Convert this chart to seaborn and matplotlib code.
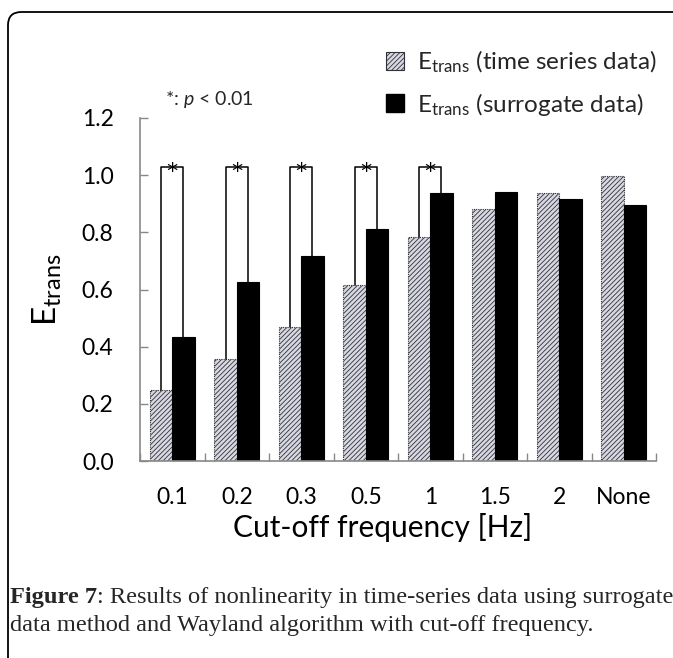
import numpy as np
import pandas as pd
import matplotlib
matplotlib.use("Agg")
import matplotlib.pyplot as plt
import seaborn as sns
from matplotlib.patches import FancyBboxPatch, Patch

# ---- data ----
categories = ["0.1", "0.2", "0.3", "0.5", "1", "1.5", "2", "None"]
time_series = [0.247, 0.358, 0.469, 0.617, 0.784, 0.883, 0.939, 0.998]
surrogate = [0.434, 0.627, 0.718, 0.810, 0.936, 0.942, 0.915, 0.895]
significant = [True, True, True, True, True, False, False, False]
series_names = ["time series data", "surrogate data"]
yticks = [0.0, 0.2, 0.4, 0.6, 0.8, 1.0, 1.2]
bracket_level = 1.027

df = pd.DataFrame({
    "freq": categories * 2,
    "value": time_series + surrogate,
    "series": [series_names[0]] * len(categories) + [series_names[1]] * len(categories),
})

sns.set_theme(style="white")
SANS = "Lato"
plt.rcParams["font.family"] = [SANS, "DejaVu Sans"]
plt.rcParams["mathtext.fontset"] = "custom"
plt.rcParams["mathtext.rm"] = SANS
plt.rcParams["mathtext.it"] = SANS + ":italic"
plt.rcParams["hatch.linewidth"] = 0.6

fig = plt.figure(figsize=(6.73, 6.58), dpi=100)
ax = fig.add_axes([140 / 673, 1 - 461 / 658, 516 / 673, (461 - 118) / 658])

gray_fc = "#d8d8e2"
hatch_c = "#7c7c96"
HATCH = "///////"
sns.barplot(data=df, x="freq", y="value", hue="series", order=categories,
            hue_order=series_names, palette=[gray_fc, "black"],
            width=0.69, gap=0, dodge=True, legend=False, ax=ax,
            saturation=1, edgecolor="black", linewidth=0.8)

n = len(categories)
for i, p in enumerate(ax.patches[:n]):
    p.set_hatch(HATCH)
    p.set_edgecolor("#303038")
    p.set_linestyle((0, (1, 1)))
    try:
        p.set_hatchcolor(hatch_c)
    except Exception:
        pass

# brackets
gray_bars = ax.patches[:n]
black_bars = ax.patches[n:2 * n]
for i in range(n):
    if not significant[i]:
        continue
    gb, bb = gray_bars[i], black_bars[i]
    x0 = gb.get_x() + gb.get_width() / 2
    x1 = bb.get_x() + bb.get_width() / 2
    ax.plot([x0, x0, x1, x1], [time_series[i], bracket_level, bracket_level, surrogate[i]],
            color="black", lw=1.1, zorder=3)
    ax.text((x0 + x1) / 2, bracket_level - 0.016, "*", ha="center", va="center",
            fontsize=16, color="black", zorder=4, family=["DejaVu Sans"])

ax.set_ylim(0, 1.2)
ax.set_xlim(-0.5, n - 0.5)
ax.set_yticks(yticks)
ax.set_yticklabels([f"{v:.1f}" for v in yticks], fontsize=16.5)
ax.tick_params(axis="y", direction="in", length=6, width=1, color="#888888", pad=19,
               left=True, labelcolor="black")
ax.tick_params(axis="x", length=0, pad=19, labelsize=16.5, labelcolor="black")
ax.set_xticks(range(n))
ax.set_xticklabels(categories)
ax.set_xticks(np.arange(-0.5, n, 1.0), minor=True)
ax.tick_params(axis="x", which="minor", direction="in", length=6, width=1,
               color="#888888", bottom=True)
for s in ["top", "right"]:
    ax.spines[s].set_visible(False)
for s in ["left", "bottom"]:
    ax.spines[s].set_color("#888888")
    ax.spines[s].set_linewidth(1.2)
ax.set_xlabel("Cut-off frequency [Hz]", fontsize=21.5, color="black")
ax.xaxis.set_label_coords((383 - 140) / 516, -(527 - 461) / 343, transform=ax.transAxes)
ax.xaxis.label.set_va("center")
ax.set_ylabel(r"E$_\mathregular{trans}$", fontsize=24, labelpad=13, color="black")

# legend
h1 = Patch(facecolor=gray_fc, edgecolor="#303038", hatch=HATCH, linewidth=0.8)
try:
    h1.set_hatchcolor(hatch_c)
except Exception:
    pass
h2 = Patch(facecolor="black", edgecolor="black")
leg = fig.legend([h1, h2],
                 [r"E$_\mathregular{trans}$ (time series data)",
                  r"E$_\mathregular{trans}$ (surrogate data)"],
                 loc="upper left", bbox_to_anchor=(376 / 673, 1 - 39 / 658),
                 frameon=False, fontsize=17.5, handlelength=0.75, handleheight=0.75,
                 handletextpad=0.55, labelspacing=0.65, borderaxespad=0)

fig.text(165 / 673, 1 - 99 / 658, r"*: $\mathit{p}$ < 0.01", fontsize=14,
         ha="left", va="center")

# frame
frame = FancyBboxPatch((8 / 673, -0.2), 1.2, 1 - 12 / 658 + 0.2,
                       boxstyle="round,pad=0,rounding_size=0.02",
                       transform=fig.transFigure, fill=False, edgecolor="black",
                       linewidth=1.3, clip_on=False)
fig.patches.append(frame)

# caption
SERIF = ["Liberation Serif", "DejaVu Serif"]
cap_fs = 17.6
t1 = fig.text(10 / 673, 1 - 597 / 658, "Figure 7", fontsize=cap_fs, fontweight="bold",
              family=SERIF, ha="left", va="center")
fig.canvas.draw()
bb = t1.get_window_extent()
fig.text(bb.x1 / 673, 1 - 597 / 658,
         ": Results of nonlinearity in time-series data using surrogate",
         fontsize=cap_fs, family=SERIF, ha="left", va="center")
fig.text(10 / 673, 1 - 626 / 658,
         "data method and Wayland algorithm with cut-off frequency.",
         fontsize=cap_fs, family=SERIF, ha="left", va="center")

fig.savefig("out.png", dpi=100)
